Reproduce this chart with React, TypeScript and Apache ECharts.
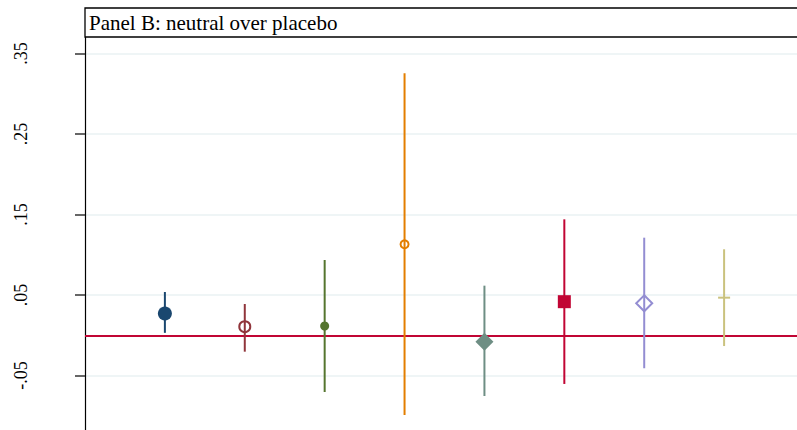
import React, { useEffect, useRef } from "react";
import * as echarts from "echarts";

const categories = [1, 2, 3, 4, 5, 6, 7, 8];
const estimates = [0.027, 0.0106, 0.0115, 0.113, -0.008, 0.0417, 0.0397, 0.0467];
const lowerCI = [0.003, -0.0204, -0.0705, -0.099, -0.0755, -0.0605, -0.041, -0.0134];
const upperCI = [0.0537, 0.0388, 0.0935, 0.3254, 0.0616, 0.144, 0.1212, 0.1068];
const yTicks = [-0.05, 0.05, 0.15, 0.25, 0.35];
const tickLabels = ["-.05", ".05", ".15", ".25", ".35"];
const titleText = "Panel B: neutral over placebo";

const colors = ["#1a476f", "#90353b", "#55752f", "#e37e00", "#6e8e84", "#c10534", "#938dd2", "#cac27e"];
const HOLLOW = "rgba(0,0,0,0)";
const markerStyles: any[] = [
  { symbol: "circle", symbolSize: 14, itemStyle: { color: colors[0], opacity: 1 } },
  { symbol: "circle", symbolSize: 11, itemStyle: { color: HOLLOW, borderColor: colors[1], borderWidth: 2, opacity: 1 } },
  { symbol: "circle", symbolSize: 9, itemStyle: { color: colors[2], opacity: 1 } },
  { symbol: "circle", symbolSize: 8, itemStyle: { color: HOLLOW, borderColor: colors[3], borderWidth: 2, opacity: 1 } },
  { symbol: "diamond", symbolSize: 18, itemStyle: { color: colors[4], opacity: 1 } },
  { symbol: "rect", symbolSize: 13, itemStyle: { color: colors[5], opacity: 1 } },
  { symbol: "diamond", symbolSize: [16, 16], itemStyle: { color: HOLLOW, borderColor: colors[6], borderWidth: 2, opacity: 1 } },
  { symbol: "path://M0,5L12,5L12,7L0,7Z", symbolSize: [12, 2], itemStyle: { color: colors[7], opacity: 1 } },
];

const X_MAX = (797 - 84) / 80;
const Y_MIN = -0.1177;
const Y_MAX = 0.3705;

export default function App() {
  const ref = useRef<HTMLDivElement>(null);
  useEffect(() => {
    if (!ref.current) return;
    const chart = echarts.init(ref.current, undefined, { renderer: "svg" });
    const barData = categories.map((c, i) => [c, lowerCI[i], upperCI[i]]);
    const pointData = categories.map((c, i) => ({
      value: [c, estimates[i]],
      ...markerStyles[i],
    }));
    chart.setOption({
      animation: false,
      backgroundColor: "#ffffff",
      grid: { left: 85, right: 0, top: 37, bottom: 0 },
      xAxis: {
        type: "value",
        min: 0,
        max: X_MAX,
        show: false,
      },
      yAxis: {
        type: "value",
        min: Y_MIN,
        max: Y_MAX,
        axisLine: { show: true, lineStyle: { color: "#000000", width: 1.2 } },
        axisTick: {
          show: true,
          length: 10,
          customValues: yTicks,
          lineStyle: { color: "#333333", width: 1.5 },
        },
        axisLabel: {
          show: true,
          customValues: yTicks,
          rotate: 90,
          margin: 55,
          fontFamily: "Liberation Serif",
          fontSize: 18,
          color: "#000000",
          formatter: (v: number) => {
            const idx = yTicks.findIndex((t) => Math.abs(t - v) < 1e-9);
            return idx >= 0 ? tickLabels[idx] : "";
          },
        },
        splitLine: { show: true, lineStyle: { color: "#eaf2f3", width: 1.5 } },
      },
      graphic: [
        {
          type: "rect",
          shape: { x: 85, y: 8, width: 720, height: 29 },
          style: { fill: "#ffffff", stroke: "#000000", lineWidth: 1.3 },
          z: 10,
        },
        {
          type: "text",
          x: 89,
          y: 23,
          style: {
            text: titleText,
            fontFamily: "Liberation Serif",
            fontSize: 21,
            fill: "#000000",
            verticalAlign: "middle",
          },
          z: 11,
        },
      ],
      series: [
        {
          type: "custom",
          data: barData,
          z: 3,
          renderItem: (params: any, api: any) => {
            const x = api.value(0);
            const p1 = api.coord([x, api.value(1)]);
            const p2 = api.coord([x, api.value(2)]);
            return {
              type: "line",
              shape: { x1: p1[0], y1: p1[1], x2: p2[0], y2: p2[1] },
              style: { stroke: colors[params.dataIndex], lineWidth: 2 },
            };
          },
          markLine: {
            silent: true,
            symbol: "none",
            label: { show: false },
            lineStyle: { color: "#c10534", width: 2, type: "solid" },
            data: [{ yAxis: 0 }],
            z: 2,
          },
        },
        {
          type: "scatter",
          data: pointData,
          z: 4,
          itemStyle: { opacity: 1 },
        },
      ],
    });
    return () => chart.dispose();
  }, []);
  return (
    <div
      ref={ref}
      style={{ position: "fixed", left: 0, top: 0, width: 797, height: 430, background: "#fff" }}
    />
  );
}
